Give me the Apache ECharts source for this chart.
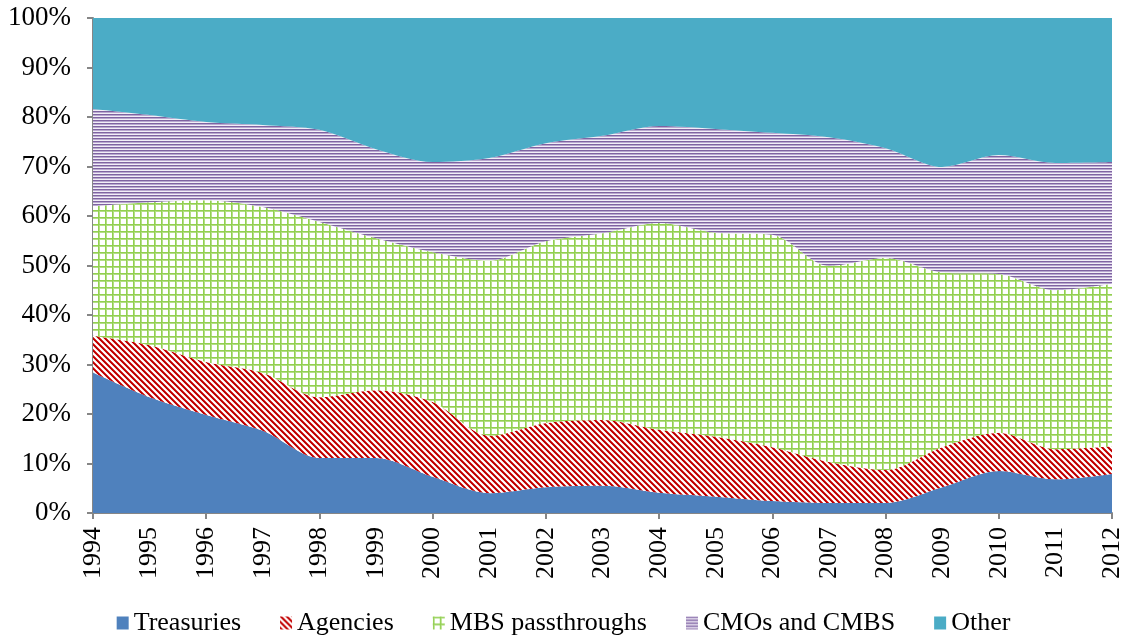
<!DOCTYPE html>
<html>
<head>
<meta charset="utf-8">
<script src="https://cdn.jsdelivr.net/npm/echarts@6/dist/echarts.min.js"></script>
<style>
  html, body { margin: 0; padding: 0; background: #fff; }
  #chart { width: 1127px; height: 636px; }
</style>
</head>
<body>
<div id="chart"></div>
<script>
const years = ['1994', '1995', '1996', '1997', '1998', '1999', '2000', '2001', '2002', '2003',
  '2004', '2005', '2006', '2007', '2008', '2009', '2010', '2011', '2012']
// shares of total, in percent
const treasuries = [28.4, 23.4, 19.8, 16.6, 11.1, 11.1, 7.3, 4.0, 5.2, 5.5, 4.1, 3.3, 2.4, 2.0, 2.0, 5.2, 8.5, 6.8, 7.9]
const agencies = [7.4, 10.5, 10.7, 11.7, 12.3, 13.7, 15.1, 11.6, 13.0, 13.3, 12.7, 12.1, 10.9, 8.3, 6.7, 8.1, 7.7, 6.1, 5.6]
const mbsPass = [26.2, 28.9, 32.7, 33.5, 35.4, 30.7, 30.3, 35.4, 36.7, 37.7, 41.8, 41.2, 42.9, 39.6, 42.8, 35.3, 32.1, 32.1, 32.8]
const cmos = [19.6, 17.6, 15.8, 16.6, 18.6, 18.0, 18.2, 20.7, 19.8, 19.7, 19.6, 21.0, 20.6, 26.0, 22.2, 21.3, 24.0, 25.7, 24.6]
const other = [18.4, 19.6, 21.0, 21.6, 22.6, 26.5, 29.1, 28.3, 25.3, 23.8, 21.8, 22.4, 23.2, 24.1, 26.3, 30.1, 27.7, 29.3, 29.1]
const yTicks = [0, 10, 20, 30, 40, 50, 60, 70, 80, 90, 100]

// small pixel tiles for the Excel-like fill patterns
function makeTile (w, h, pick) {
  const c = document.createElement('canvas')
  c.width = w
  c.height = h
  const ctx = c.getContext('2d')
  for (let y = 0; y < h; y++) {
    for (let x = 0; x < w; x++) {
      ctx.fillStyle = pick(x, y)
      ctx.fillRect(x, y, 1, 1)
    }
  }
  return { image: c, repeat: 'repeat' }
}

const stripeRed = makeTile(6, 6, (x, y) => {
  const k = ((x - y) % 6 + 6) % 6
  if (k < 2) return '#C00000'
  if (k === 2) return '#D84040'
  return k === 5 ? '#F4CFCF' : '#FFFFFF'
})
const gridGreen = makeTile(7, 7, (x, y) => {
  if (x === 0 || y === 0) return '#92D050'
  if (x === 1 || y === 1) return '#B4DE86'
  return '#FFFFFF'
})
const hLinesPurple = makeTile(1, 3, (x, y) => ['#7F63A1', '#B9A8D0', '#F2EEF7'][y])

function areaSeries (name, data, fill) {
  return {
    name: name,
    type: 'line',
    stack: 'total',
    smooth: 0.3,
    symbol: 'none',
    lineStyle: { width: 0 },
    itemStyle: { color: fill },
    areaStyle: { color: fill, opacity: 1 },
    data: data
  }
}

const chart = echarts.init(document.getElementById('chart'))
chart.setOption({
  animation: false,
  textStyle: { fontFamily: 'Liberation Serif' },
  grid: { left: 93, right: 15, top: 18, bottom: 123 },
  legend: {
    top: 605,
    left: 'center',
    itemWidth: 12,
    itemHeight: 13,
    itemGap: 39,
    icon: 'rect',
    textStyle: { fontFamily: 'Liberation Serif', fontSize: 26, color: '#000' },
    data: ['Treasuries', 'Agencies', 'MBS passthroughs', 'CMOs and CMBS', 'Other']
  },
  xAxis: {
    type: 'category',
    boundaryGap: false,
    data: years,
    axisLine: { lineStyle: { color: '#868686', width: 2 } },
    axisTick: { show: true, interval: 1, length: 6, lineStyle: { color: '#868686', width: 2 } },
    axisLabel: {
      interval: 0,
      rotate: 90,
      margin: 14,
      fontFamily: 'Liberation Serif',
      fontSize: 26,
      color: '#000'
    },
    splitLine: { show: false }
  },
  yAxis: {
    type: 'value',
    min: yTicks[0],
    max: yTicks[yTicks.length - 1],
    interval: 10,
    axisLine: { show: true, lineStyle: { color: '#868686', width: 2 } },
    axisTick: { show: true, length: 6, lineStyle: { color: '#868686', width: 2 } },
    axisLabel: {
      margin: 22,
      fontFamily: 'Liberation Serif',
      fontSize: 27,
      color: '#000',
      formatter: '{value}%'
    },
    splitLine: { show: false }
  },
  series: [
    areaSeries('Treasuries', treasuries, '#4F81BD'),
    areaSeries('Agencies', agencies, stripeRed),
    areaSeries('MBS passthroughs', mbsPass, gridGreen),
    areaSeries('CMOs and CMBS', cmos, hLinesPurple),
    areaSeries('Other', other, '#4BACC6')
  ]
})
</script>
</body>
</html>
